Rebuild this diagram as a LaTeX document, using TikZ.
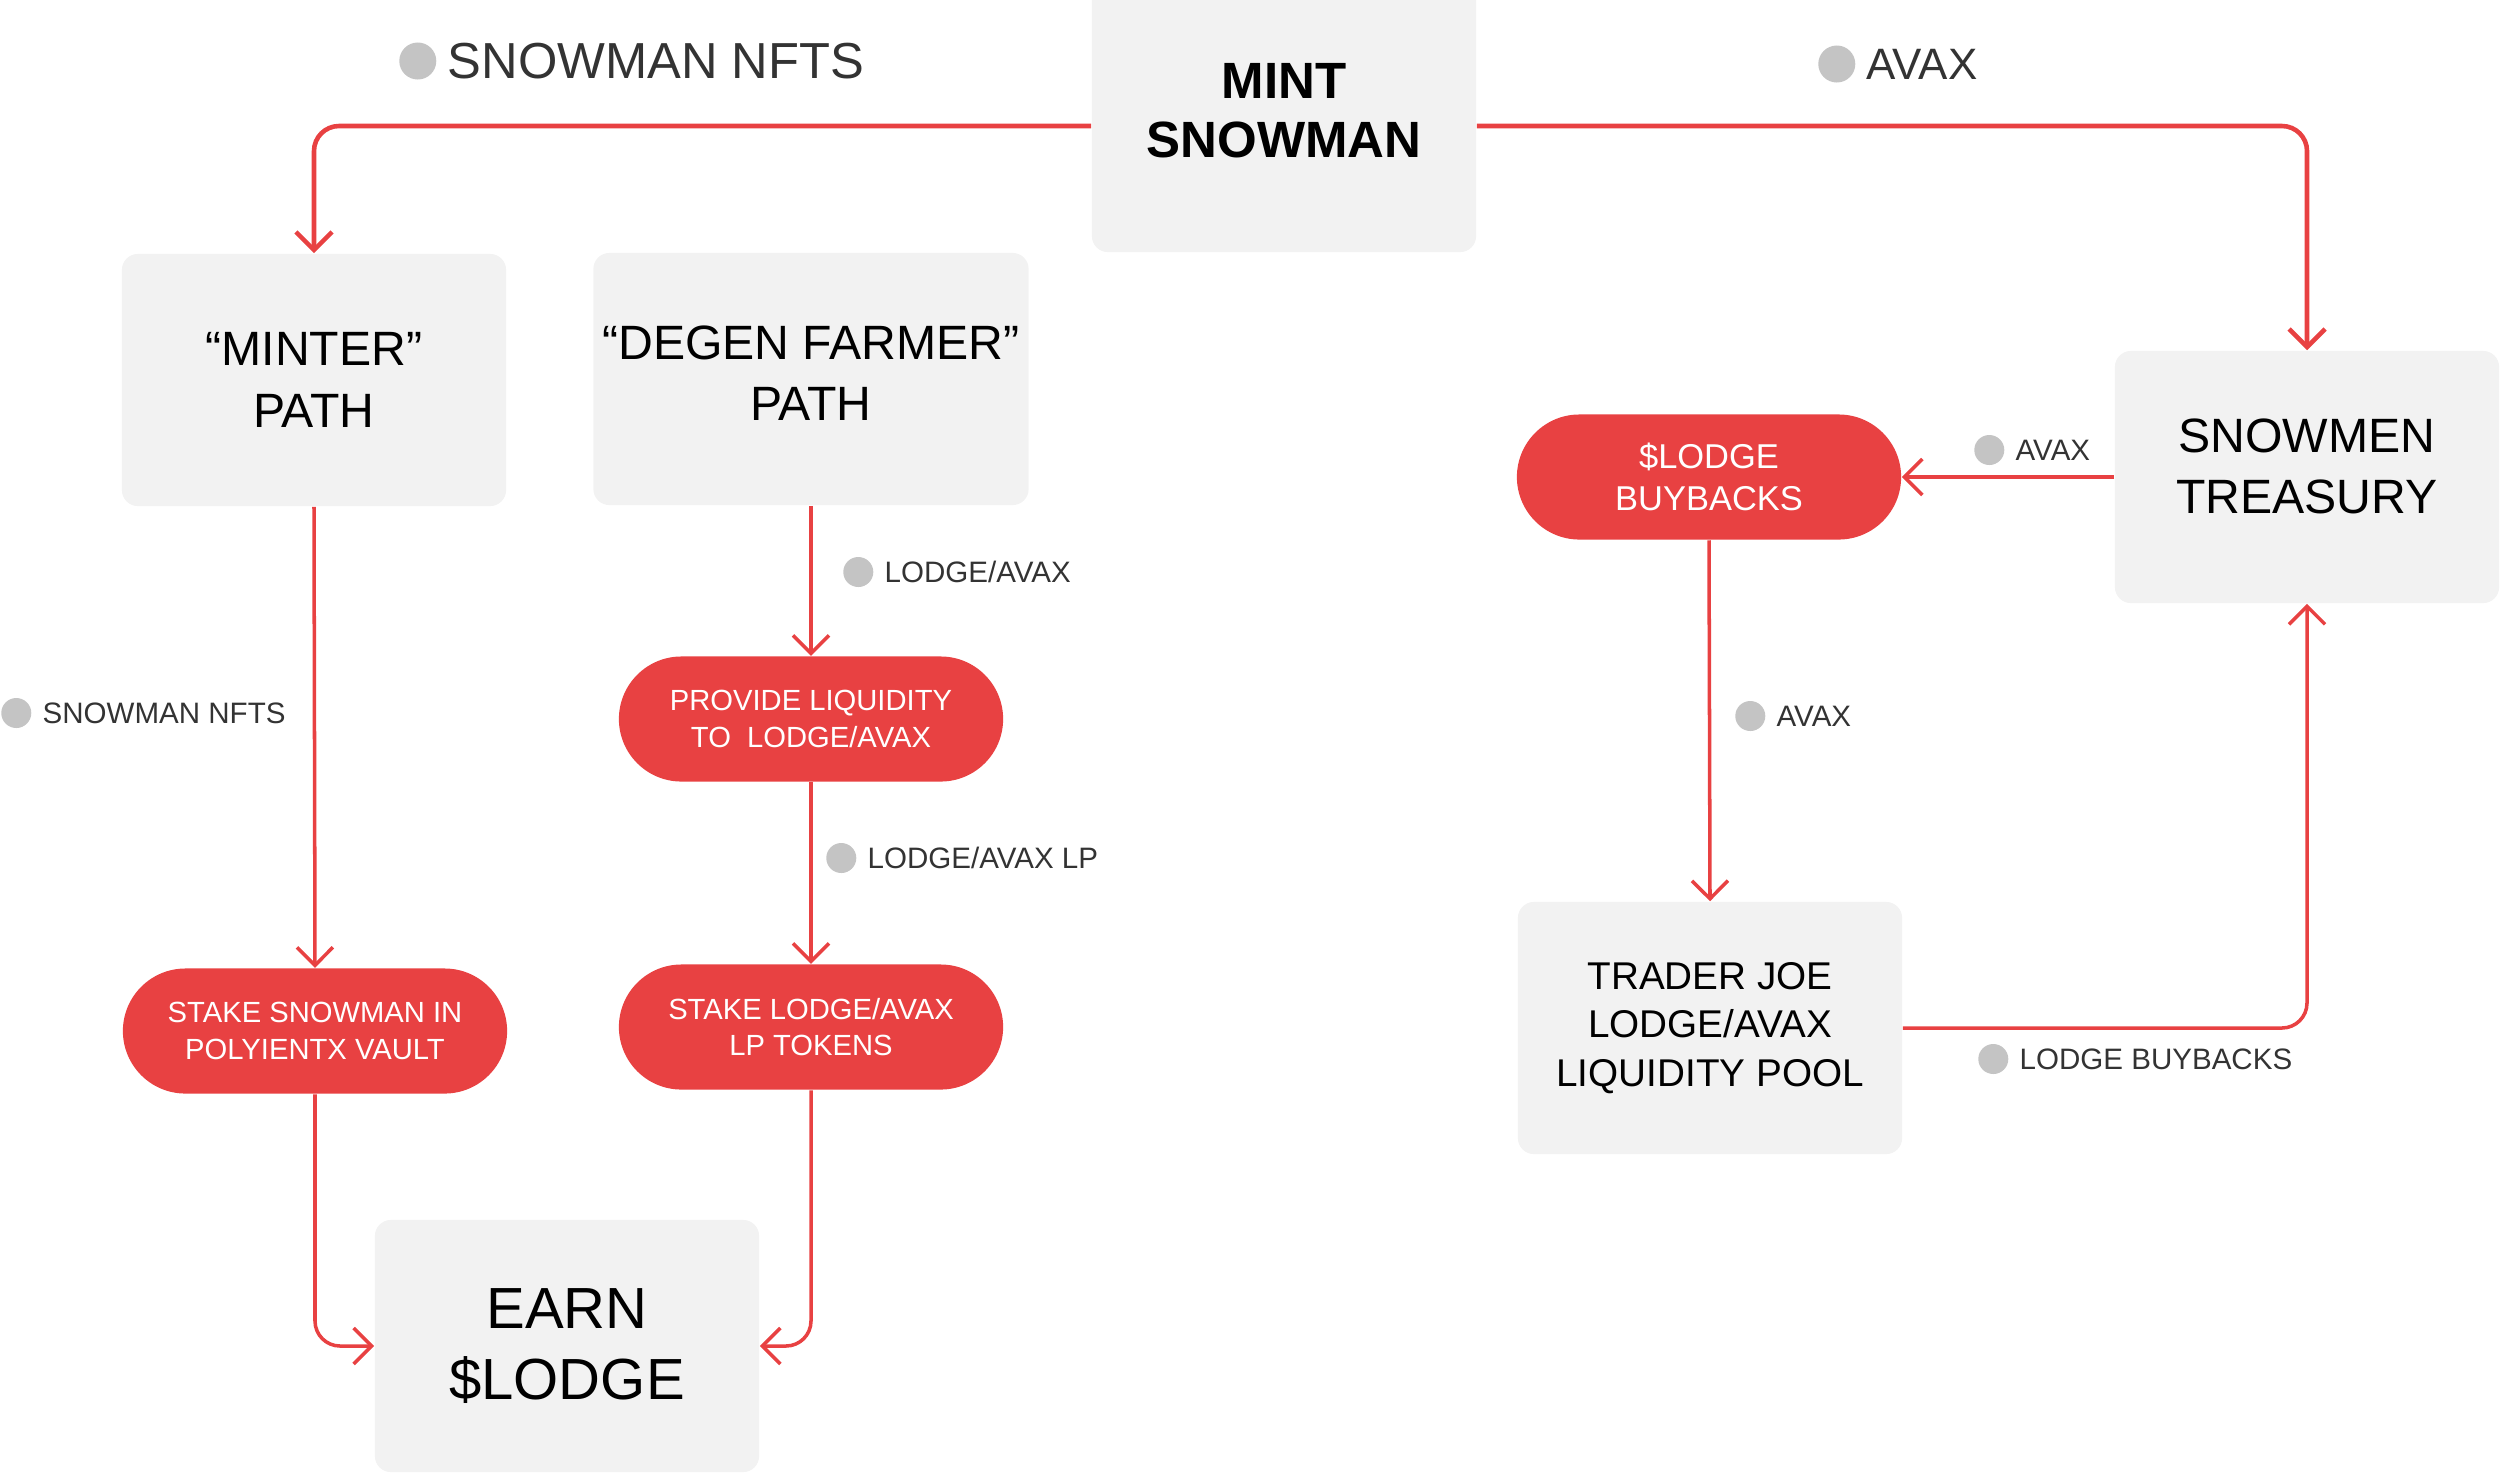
\documentclass[tikz,border=0pt]{standalone}
\usepackage{fontspec}
\setmainfont{Liberation Sans}
\usetikzlibrary{arrows.meta,shapes.misc}
\definecolor{red}{RGB}{232, 65, 66}
\definecolor{boxgray}{RGB}{242, 242, 242}
\definecolor{dotgray}{RGB}{196, 196, 196}
\definecolor{ink}{RGB}{51, 51, 51}

\begin{document}
\begin{tikzpicture}[x=0.01cm, y=-0.01cm,
    box/.style={fill=boxgray, rounded corners=0.16cm, minimum width=3.84cm,
      minimum height=2.52cm, inner sep=0, align=center,
      font=\fontsize{13.7}{17.4}\selectfont},
    pill/.style={rounded rectangle, fill=red, text=white, minimum width=3.84cm,
      minimum height=1.25cm, inner sep=0, align=center,
      font=\fontsize{8.3}{10.4}\selectfont},
    flow/.style={red, line width=1pt, rounded corners=0.25cm,
      -{Straight Barb[length=0.18cm, width=0.36cm]}},
    dot/.style={circle, fill=dotgray, inner sep=0},
    tag/.style={anchor=west, text=ink, inner sep=0,
      font=\fontsize{8.4}{10}\selectfont,
      label={[dot, minimum size=#1, xshift=-0.1cm]left:{}}},
    tag/.default=0.3cm]
  \useasboundingbox (0, 0) rectangle (2500, 1475);

  \node[box, minimum height=2.82cm, font=\bfseries\fontsize{14.5}{16.8}\selectfont]
    (mint) at (1284, 111) {MINT\\SNOWMAN};
  \node[box] (minter)   at (314, 380)  {“MINTER”\\PATH};
  \node[box, minimum width=4.35cm, text depth=0.12cm]
    (degen) at (811, 379) {“DEGEN FARMER”\\PATH};
  \node[box, text depth=0.22cm] (treasury) at (2307, 477) {SNOWMEN\\TREASURY};
  \node[box, font=\fontsize{11}{13.8}\selectfont]
    (trader) at (1710, 1028) {TRADER JOE\\LODGE/AVAX\\LIQUIDITY POOL};
  \node[box, font=\fontsize{16.5}{20.4}\selectfont]
    (earn) at (567, 1346) {EARN\\\$LODGE};

  \node[pill, font=\fontsize{9.8}{11.8}\selectfont]
    (buyback) at (1709, 477) {\$LODGE\\BUYBACKS};
  \node[pill] (provide)  at (811, 719)  {PROVIDE LIQUIDITY\\TO\ \ LODGE/AVAX};
  \node[pill] (stakenft) at (315, 1031) {STAKE SNOWMAN IN\\POLYIENTX VAULT};
  \node[pill] (stakelp)  at (811, 1027) {STAKE LODGE/AVAX\\LP TOKENS};

  \draw[flow, line width=1.3pt] ([yshift=-0.15cm]mint.west) -| (minter.north);
  \draw[flow, line width=1.3pt] ([yshift=-0.15cm]mint.east) -| (treasury.north);
  \draw[flow] (treasury.west) -- (buyback.east);
  \draw[flow] (buyback.south) -- (trader.north);
  \draw[flow] (trader.east) -| (treasury.south);
  \draw[flow] (minter.south) -- (stakenft.north);
  \draw[flow] (degen.south) -- (provide.north);
  \draw[flow] (provide.south) -- (stakelp.north);
  \draw[flow] (stakenft.south) |- (earn.west);
  \draw[flow] (stakelp.south) |- (earn.east);

  % flow labels
  \node[tag=0.37cm, font=\fontsize{14.4}{16}\selectfont]
    (nfttop) at (447, 61) {SNOWMAN NFTS};
  \node[tag=0.37cm, font=\fontsize{12.5}{15}\selectfont]
    (avaxtop) at (1866, 64) {AVAX};
  \foreach \nm/\x/\y/\txt in {nftleft/42/713/SNOWMAN NFTS, lpin/884/572/{LODGE/AVAX},
      lpout/867/858/{LODGE/AVAX LP}, avaxtre/2015/450/AVAX, avaxmid/1776/716/AVAX,
      buyret/2019/1059/LODGE BUYBACKS} {
    \node[tag] (\nm) at (\x, \y) {\txt};
  }
\end{tikzpicture}
\end{document}
